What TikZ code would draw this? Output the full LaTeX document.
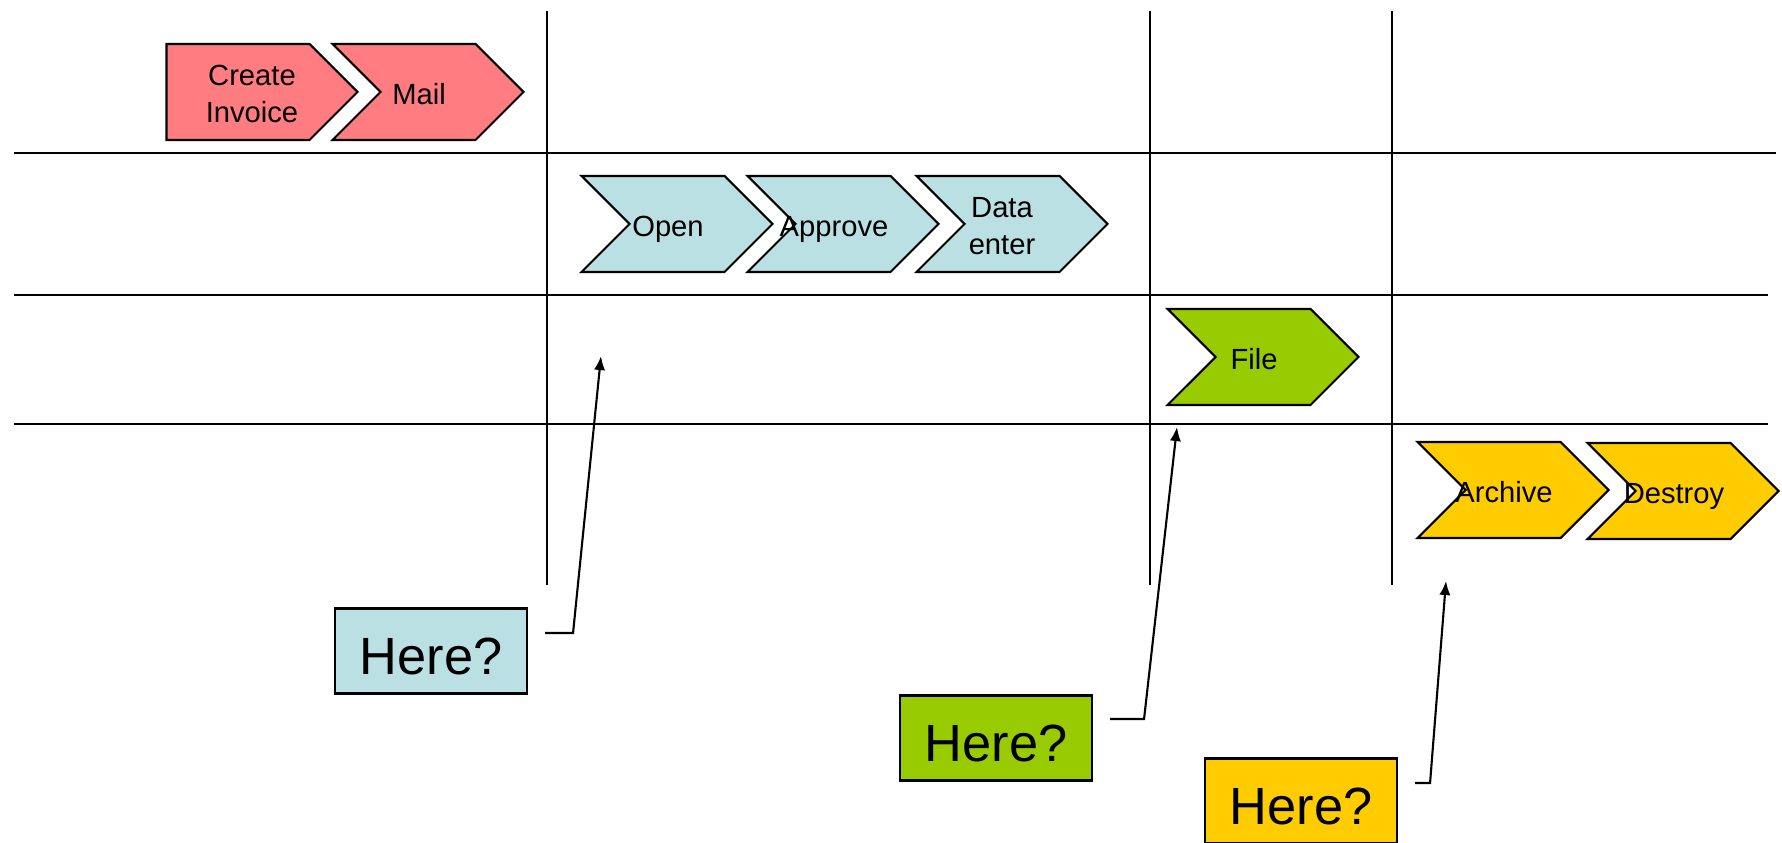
\documentclass[tikz,border=0pt]{standalone}
\usepackage{fontspec}
\setmainfont{Liberation Sans}
\usetikzlibrary{shapes.symbols,arrows.meta}

\definecolor{invred}{HTML}{FF7C80}
\definecolor{procblue}{HTML}{BBE0E3}
\definecolor{filegreen}{HTML}{99CC00}
\definecolor{archyellow}{HTML}{FFCC00}

\begin{document}
\begin{tikzpicture}[x=0.1mm,y=-0.1mm,line width=0.6pt,>={Latex[length=4pt,width=3.2pt]},
    stepbox/.style={signal,draw,signal to=east,signal from=west,signal pointer angle=90,
        minimum width=19.1mm,minimum height=9.6mm,inner sep=0pt},
    firststep/.style={stepbox,signal from=nowhere},
    steptext/.style={font=\fontsize{8.3}{10.7}\selectfont,inner sep=0pt,
        xshift=-0.9mm,yshift=-0.15mm,text height=6pt,text depth=0pt},
    steptwo/.style={font=\fontsize{8.3}{10.7}\selectfont,inner sep=0pt,
        align=center,yshift=-0.2mm},
    askbox/.style={draw,minimum width=19.2mm,minimum height=8.5mm,inner sep=0pt,
        font=\fontsize{14.9}{16}\selectfont,text height=13.6pt,text depth=0pt}]
    \useasboundingbox (0,0) rectangle (1782,843);
    \draw (14,153) -- (1776,153);
    \draw (14,295) -- (1768,295);
    \draw (14,424) -- (1768,424);
    \draw (547,11) -- (547,585);
    \draw (1150,11) -- (1150,585);
    \draw (1392,11) -- (1392,585);
    \node[firststep,fill=invred,label={[steptwo,xshift=1.4mm]center:Create\\Invoice}] (ci) at (238,92) {};
    \node[stepbox,fill=invred,label={[steptext]center:Mail}] (mail) at (428,92) {};
    \node[stepbox,fill=procblue,label={[steptext]center:Open}] (open) at (677,224) {};
    \node[stepbox,fill=procblue,label={[steptext]center:Approve}] (approve) at (843,224) {};
    \node[stepbox,fill=procblue,label={[steptwo,xshift=-1mm]center:Data\\enter}] (dataenter) at (1012,224) {};
    \node[stepbox,fill=filegreen,label={[steptext]center:File}] (file) at (1263,357) {};
    \node[stepbox,fill=archyellow,label={[steptext]center:Archive}] (archive) at (1513,490) {};
    \node[stepbox,fill=archyellow,label={[steptext]center:Destroy}] (destroy) at (1683,491) {};
    \node[askbox,fill=procblue] (here1) at (431,651) {Here?};
    \node[askbox,fill=filegreen] (here2) at (996,738) {Here?};
    \node[askbox,fill=archyellow] (here3) at (1301,801) {Here?};
    \coordinate (t1) at (601,356);
    \coordinate (t2) at (1177,427);
    \coordinate (t3) at (1446,581);
    \draw[->] ([shift={(17,-18)}]here1.east) -- ++(28,0) -- (t1);
    \draw[->] ([shift={(17,-19)}]here2.east) -- ++(34,0) -- (t2);
    \draw[->] ([shift={(17,-18)}]here3.east) -- ++(15,0) -- (t3);
\end{tikzpicture}
\end{document}
